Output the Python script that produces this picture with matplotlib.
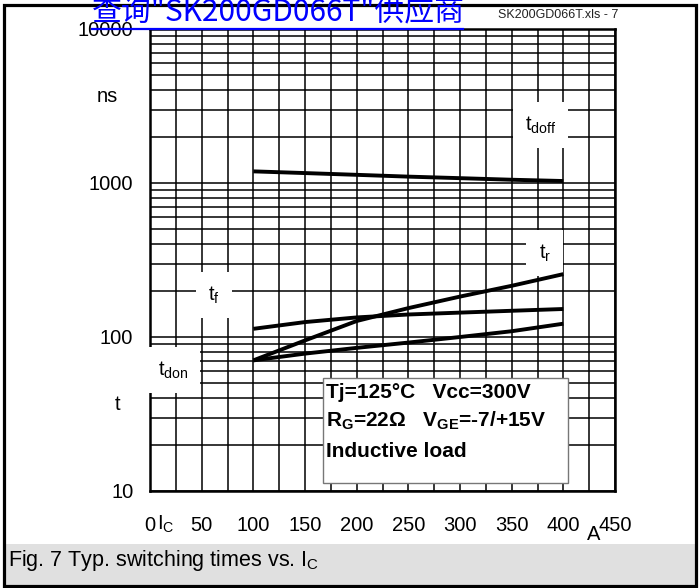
import matplotlib
matplotlib.use("Agg")
import matplotlib.pyplot as plt
from matplotlib.patches import Rectangle
from matplotlib.lines import Line2D
from matplotlib.ticker import FixedLocator, LogLocator, NullFormatter

# ---------- data ----------
ic = [100, 150, 200, 250, 300, 350, 400]          # collector current, A
t_doff = [1190, 1160, 1130, 1100, 1075, 1050, 1030]  # ns
t_f = [113, 125, 134, 140, 144, 148, 152]
t_r = [70.5, 95, 127, 154, 183, 215, 256]
t_don = [70.5, 78, 85, 92, 100, 109, 122]

x_ticks = [0, 50, 100, 150, 200, 250, 300, 350, 400, 450]
y_ticks = [10, 100, 1000, 10000]
curve_labels = ["t$_{\\mathregular{doff}}$", "t$_{\\mathregular{r}}$",
                "t$_{\\mathregular{f}}$", "t$_{\\mathregular{don}}$"]
label_pos = [(378, 2385), (382, 351), (62, 187), (22, 61)]

plt.rcParams["font.family"] = ["Liberation Sans", "DejaVu Sans"]
plt.rcParams["mathtext.fontset"] = "custom"
plt.rcParams["mathtext.rm"] = "Liberation Sans"
plt.rcParams["mathtext.it"] = "Liberation Sans"
plt.rcParams["mathtext.bf"] = "Liberation Sans:bold"

W, H = 699, 588
fig = plt.figure(figsize=(W / 100, H / 100), dpi=100)


def fx(px):
    return px / W


def fy(py):
    return 1 - py / H


# ---------- frame & caption band ----------
fig.patches.append(Rectangle((fx(4), fy(585)), fx(691), 41 / H,
                             transform=fig.transFigure, facecolor="#e0e0e0",
                             edgecolor="none", zorder=0))
fig.patches.append(Rectangle((fx(3.5), fy(586)), fx(692), 581 / H,
                             transform=fig.transFigure, facecolor="none",
                             edgecolor="black", linewidth=2.3, zorder=1))

# ---------- axes ----------
ax = fig.add_axes([fx(150), 1 - 491 / H, 465 / W, 462 / H])
ax.set_yscale("log")
ax.set_xlim(0, 450)
ax.set_ylim(10, 10000)

ax.xaxis.set_major_locator(FixedLocator(x_ticks))
ax.xaxis.set_minor_locator(FixedLocator(list(range(0, 451, 25))))
ax.yaxis.set_major_locator(FixedLocator(y_ticks))
ax.yaxis.set_minor_locator(LogLocator(base=10, subs=range(2, 10)))
ax.yaxis.set_minor_formatter(NullFormatter())
ax.set_yticklabels([str(v) for v in y_ticks])
ax.set_xticklabels([str(v) for v in x_ticks])
ax.tick_params(which="both", length=0)
ax.tick_params(axis="x", pad=18, labelsize=14.5)
ax.tick_params(axis="y", pad=12, labelsize=14.5)

ax.grid(True, which="both", color="black", linewidth=1.1)
ax.set_axisbelow(True)
for s in ax.spines.values():
    s.set_linewidth(1.8)

# ---------- curves ----------
for ys in (t_doff, t_f, t_r, t_don):
    ax.plot(ic, ys, color="black", linewidth=2.8, solid_capstyle="butt", zorder=4)

for lab, (lx, ly) in zip(curve_labels, label_pos):
    ax.text(lx, ly, lab, fontsize=14.5, ha="center", va="center", zorder=3,
            bbox=dict(boxstyle="square,pad=0.6", facecolor="white",
                      edgecolor="none"))

# conditions box
ax.add_patch(Rectangle((0.372, 0.0173), 0.527, 0.227, transform=ax.transAxes,
                       facecolor="white", edgecolor="#777777", linewidth=1.0,
                       zorder=3))
cond_lines = ["Tj=125°C   Vcc=300V",
              "R$_\\mathbf{G}$=22Ω   V$_\\mathbf{GE}$=-7/+15V",
              "Inductive load"]
for txt, yb in zip(cond_lines, [0.201, 0.139, 0.0736]):
    ax.text(0.378, yb, txt, transform=ax.transAxes, fontsize=15,
            fontweight="bold", ha="left", va="baseline", zorder=5)

# axis annotations
fig.text(fx(107), fy(97), "ns", fontsize=14.5, ha="center", va="center")
fig.text(fx(118), fy(405), "t", fontsize=14.5, ha="center", va="center")
fig.text(fx(157), fy(530), "I$_{\\mathregular{C}}$", fontsize=14.5,
         ha="left", va="baseline")
fig.text(fx(594), fy(535), "A", fontsize=14.5, ha="center", va="center")

# caption
fig.text(fx(8), fy(566), "Fig. 7 Typ. switching times vs. I$_{\\mathregular{C}}$",
         fontsize=15.5, ha="left", va="baseline")

# header
fig.text(fx(498), fy(15), "SK200GD066T.xls - 7", fontsize=9, color="#222222",
         ha="left", va="center")
fig.text(fx(92), fy(21), "查询\"SK200GD066T\"供应商", fontsize=21.5, color="#0000ff",
         family=["Noto Sans CJK SC", "DejaVu Sans"], ha="left", va="baseline",
         zorder=10)
fig.lines.append(Line2D([fx(92), fx(463)], [fy(29), fy(29)],
                        transform=fig.transFigure, color="#0000ff",
                        linewidth=1.6, zorder=10))

fig.savefig("out.png", dpi=100)
